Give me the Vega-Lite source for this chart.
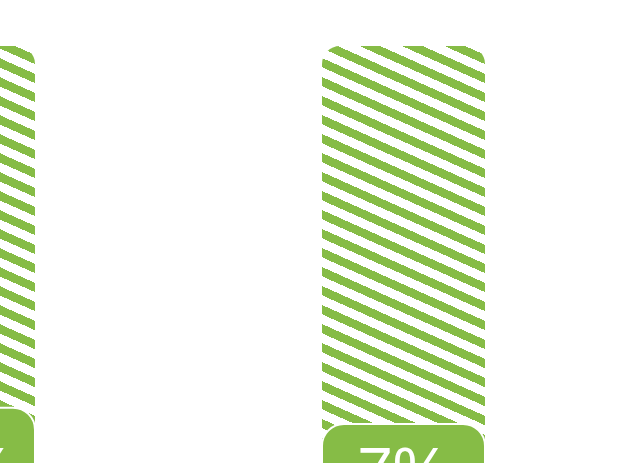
{
  "$schema": "https://vega.github.io/schema/vega-lite/v6.json",
  "width": 642,
  "height": 463,
  "autosize": {"type": "none"},
  "padding": 0,
  "background": "#ffffff",
  "config": {"view": {"stroke": null}},
  "data": {"values": [
    {"cat": "A", "value": 11, "label": "11%", "total": 100},
    {"cat": "B", "value": 7, "label": "7%", "total": 100}
  ]},
  "encoding": {
    "x": {"field": "cat", "type": "nominal", "axis": null,
      "scale": {"type": "band", "range": [-128, 485], "paddingInner": 0.6378, "paddingOuter": 0}}
  },
  "layer": [
    {
      "mark": {"type": "bar", "clip": true, "cornerRadiusTopLeft": 18, "cornerRadiusTopRight": 18,
        "fill": {"gradient": "linear", "x1": 1, "y1": 0, "x2": 0.795, "y2": 1.1427, "stops": [
          {"offset": 0, "color": "#ffffff"},
          {"offset": 0.01857, "color": "#ffffff"}, {"offset": 0.01857, "color": "#86BC46"}, {"offset": 0.03787, "color": "#86BC46"}, {"offset": 0.03787, "color": "#ffffff"},
          {"offset": 0.05821, "color": "#ffffff"}, {"offset": 0.05821, "color": "#86BC46"}, {"offset": 0.07751, "color": "#86BC46"}, {"offset": 0.07751, "color": "#ffffff"},
          {"offset": 0.09785, "color": "#ffffff"}, {"offset": 0.09785, "color": "#86BC46"}, {"offset": 0.11715, "color": "#86BC46"}, {"offset": 0.11715, "color": "#ffffff"},
          {"offset": 0.13749, "color": "#ffffff"}, {"offset": 0.13749, "color": "#86BC46"}, {"offset": 0.15679, "color": "#86BC46"}, {"offset": 0.15679, "color": "#ffffff"},
          {"offset": 0.17713, "color": "#ffffff"}, {"offset": 0.17713, "color": "#86BC46"}, {"offset": 0.19643, "color": "#86BC46"}, {"offset": 0.19643, "color": "#ffffff"},
          {"offset": 0.21677, "color": "#ffffff"}, {"offset": 0.21677, "color": "#86BC46"}, {"offset": 0.23607, "color": "#86BC46"}, {"offset": 0.23607, "color": "#ffffff"},
          {"offset": 0.25642, "color": "#ffffff"}, {"offset": 0.25642, "color": "#86BC46"}, {"offset": 0.27572, "color": "#86BC46"}, {"offset": 0.27572, "color": "#ffffff"},
          {"offset": 0.29606, "color": "#ffffff"}, {"offset": 0.29606, "color": "#86BC46"}, {"offset": 0.31536, "color": "#86BC46"}, {"offset": 0.31536, "color": "#ffffff"},
          {"offset": 0.33570, "color": "#ffffff"}, {"offset": 0.33570, "color": "#86BC46"}, {"offset": 0.35500, "color": "#86BC46"}, {"offset": 0.35500, "color": "#ffffff"},
          {"offset": 0.37534, "color": "#ffffff"}, {"offset": 0.37534, "color": "#86BC46"}, {"offset": 0.39464, "color": "#86BC46"}, {"offset": 0.39464, "color": "#ffffff"},
          {"offset": 0.41498, "color": "#ffffff"}, {"offset": 0.41498, "color": "#86BC46"}, {"offset": 0.43428, "color": "#86BC46"}, {"offset": 0.43428, "color": "#ffffff"},
          {"offset": 0.45462, "color": "#ffffff"}, {"offset": 0.45462, "color": "#86BC46"}, {"offset": 0.47392, "color": "#86BC46"}, {"offset": 0.47392, "color": "#ffffff"},
          {"offset": 0.49426, "color": "#ffffff"}, {"offset": 0.49426, "color": "#86BC46"}, {"offset": 0.51356, "color": "#86BC46"}, {"offset": 0.51356, "color": "#ffffff"},
          {"offset": 0.53390, "color": "#ffffff"}, {"offset": 0.53390, "color": "#86BC46"}, {"offset": 0.55320, "color": "#86BC46"}, {"offset": 0.55320, "color": "#ffffff"},
          {"offset": 0.57354, "color": "#ffffff"}, {"offset": 0.57354, "color": "#86BC46"}, {"offset": 0.59284, "color": "#86BC46"}, {"offset": 0.59284, "color": "#ffffff"},
          {"offset": 0.61318, "color": "#ffffff"}, {"offset": 0.61318, "color": "#86BC46"}, {"offset": 0.63248, "color": "#86BC46"}, {"offset": 0.63248, "color": "#ffffff"},
          {"offset": 0.65283, "color": "#ffffff"}, {"offset": 0.65283, "color": "#86BC46"}, {"offset": 0.67213, "color": "#86BC46"}, {"offset": 0.67213, "color": "#ffffff"},
          {"offset": 0.69247, "color": "#ffffff"}, {"offset": 0.69247, "color": "#86BC46"}, {"offset": 0.71177, "color": "#86BC46"}, {"offset": 0.71177, "color": "#ffffff"},
          {"offset": 0.73211, "color": "#ffffff"}, {"offset": 0.73211, "color": "#86BC46"}, {"offset": 0.75141, "color": "#86BC46"}, {"offset": 0.75141, "color": "#ffffff"},
          {"offset": 0.77175, "color": "#ffffff"}, {"offset": 0.77175, "color": "#86BC46"}, {"offset": 0.79105, "color": "#86BC46"}, {"offset": 0.79105, "color": "#ffffff"},
          {"offset": 0.81139, "color": "#ffffff"}, {"offset": 0.81139, "color": "#86BC46"}, {"offset": 0.83069, "color": "#86BC46"}, {"offset": 0.83069, "color": "#ffffff"},
          {"offset": 0.85103, "color": "#ffffff"}, {"offset": 0.85103, "color": "#86BC46"}, {"offset": 0.87033, "color": "#86BC46"}, {"offset": 0.87033, "color": "#ffffff"},
          {"offset": 0.89067, "color": "#ffffff"}, {"offset": 0.89067, "color": "#86BC46"}, {"offset": 0.90997, "color": "#86BC46"}, {"offset": 0.90997, "color": "#ffffff"},
          {"offset": 0.93031, "color": "#ffffff"}, {"offset": 0.93031, "color": "#86BC46"}, {"offset": 0.94961, "color": "#86BC46"}, {"offset": 0.94961, "color": "#ffffff"},
          {"offset": 0.96995, "color": "#ffffff"}, {"offset": 0.96995, "color": "#86BC46"}, {"offset": 0.98925, "color": "#86BC46"}, {"offset": 0.98925, "color": "#ffffff"},
          {"offset": 1, "color": "#ffffff"}
        ]}},
      "encoding": {
        "y": {"field": "total", "type": "quantitative", "axis": null,
          "scale": {"domain": [-2.61, 111.32], "zero": false, "nice": false}},
        "y2": {"datum": 0}
      }
    },
    {
      "mark": {"type": "bar", "clip": true, "cornerRadius": 22, "fill": "#86BC46", "stroke": "#ffffff", "strokeWidth": 2},
      "encoding": {
        "y": {"field": "value", "type": "quantitative", "axis": null,
          "scale": {"domain": [-2.61, 111.32], "zero": false, "nice": false}},
        "y2": {"datum": -20}
      }
    },
    {
      "mark": {"type": "text", "clip": true, "color": "#ffffff", "font": "Liberation Sans", "fontSize": 64, "align": "center", "baseline": "alphabetic", "dy": 41},
      "encoding": {
        "y": {"datum": 0, "type": "quantitative", "axis": null,
          "scale": {"domain": [-2.61, 111.32], "zero": false, "nice": false}},
        "text": {"field": "label", "type": "nominal"}
      }
    }
  ]
}
